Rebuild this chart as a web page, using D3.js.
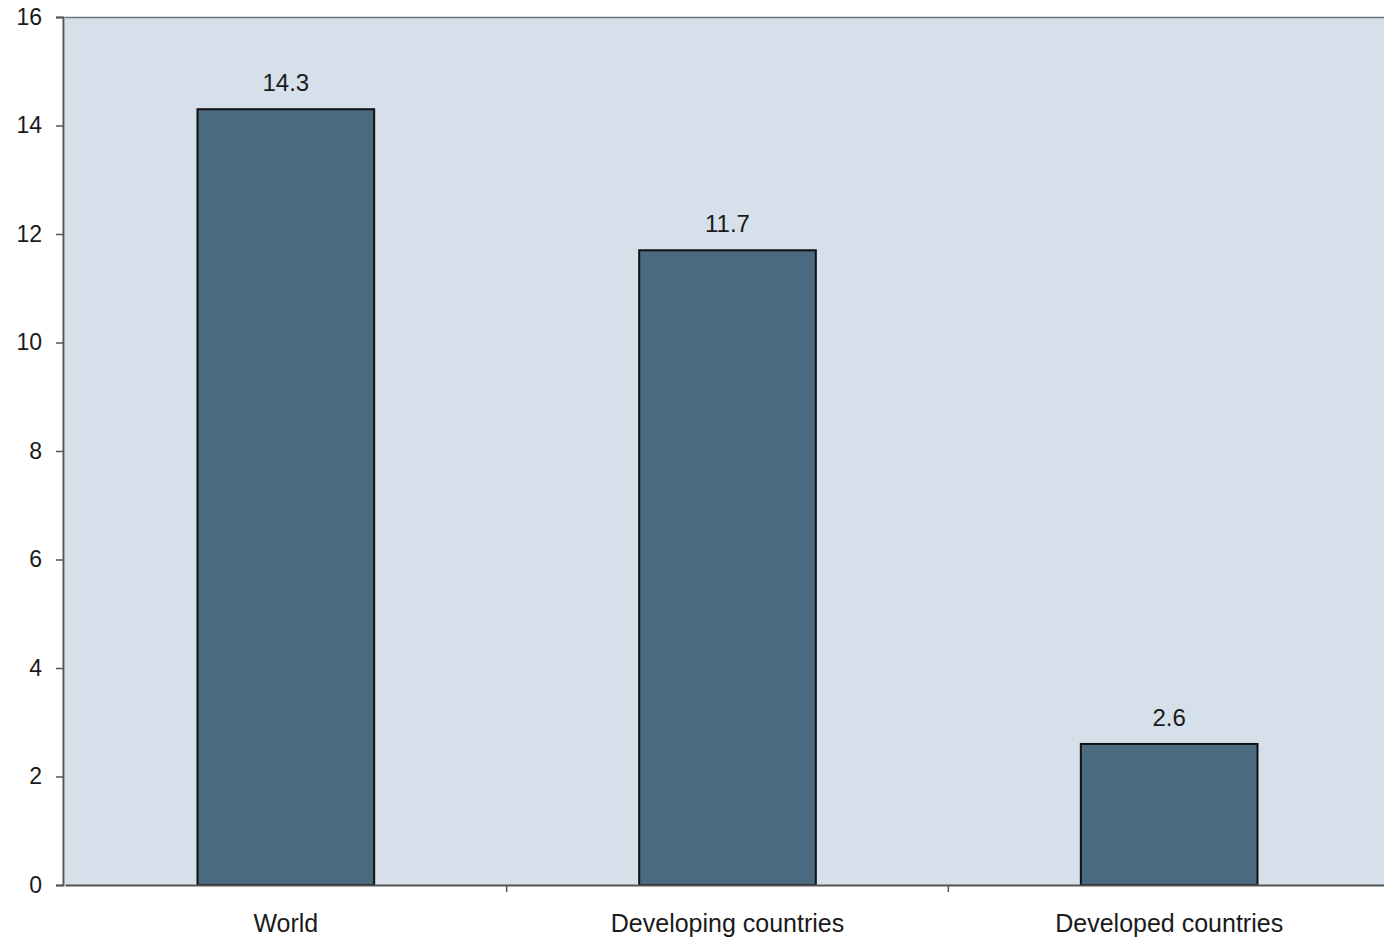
<!DOCTYPE html>
<html><head><meta charset="utf-8">
<script src="https://cdn.jsdelivr.net/npm/d3@7"></script>
<style>body{margin:0;background:#fff;overflow:hidden}svg{display:block}</style>
</head><body>
<svg id="c" width="1384" height="939"></svg>
<script>
const categories = ["World", "Developing countries", "Developed countries"];
const values = [14.3, 11.7, 2.6];
const yTicks = [0, 2, 4, 6, 8, 10, 12, 14, 16];
const valueLabels = ["14.3", "11.7", "2.6"];

const svg = d3.select("#c");
const L = 65, R = 1390, T = 17, B = 885;
const x = d3.scaleBand().domain(categories).range([L, R]).padding(0);
const y = d3.scaleLinear().domain([0, 16]).range([B, T]);
const font = "Liberation Sans, Arial, sans-serif";

svg.append("rect").attr("x", L).attr("y", T).attr("width", R - L).attr("height", B - T)
  .attr("fill", "#d6e0ea");
svg.append("line").attr("x1", L).attr("x2", R).attr("y1", T + 0.5).attr("y2", T + 0.5)
  .attr("stroke", "#6b7580").attr("stroke-width", 1.5);

const bw = x.bandwidth() * 0.4;
svg.selectAll("rect.bar").data(categories).join("rect").attr("class", "bar")
  .attr("x", d => x(d) + (x.bandwidth() - bw) / 2)
  .attr("y", (d, i) => y(values[i]))
  .attr("width", bw)
  .attr("height", (d, i) => y(0) - y(values[i]))
  .attr("fill", "#4a6a80").attr("stroke", "#111").attr("stroke-width", 2);

svg.selectAll("text.vl").data(categories).join("text").attr("class", "vl")
  .attr("x", d => x(d) + x.bandwidth() / 2)
  .attr("y", (d, i) => y(values[i]) - 18)
  .attr("text-anchor", "middle").attr("font-family", font).attr("font-size", 24)
  .attr("fill", "#1a1a1a").text((d, i) => valueLabels[i]);

const ya = svg.append("g").attr("transform", `translate(${L - 2},0)`)
  .call(d3.axisLeft(y).tickValues(yTicks).tickSize(7).tickPadding(14).tickFormat(d3.format("d")));
ya.select(".domain").attr("stroke", "#555").attr("stroke-width", 2);
ya.selectAll(".tick line").attr("stroke", "#555").attr("stroke-width", 1.5);
ya.selectAll("text").attr("font-family", font).attr("font-size", 23).attr("fill", "#1a1a1a");

const xa = svg.append("g").attr("transform", `translate(0,${B})`)
  .call(d3.axisBottom(x).tickSize(0).tickPadding(29));
xa.select(".domain").attr("stroke", "#555").attr("stroke-width", 2);
xa.selectAll("text").attr("font-family", font).attr("font-size", 25).attr("fill", "#1a1a1a");
// category separator ticks
svg.selectAll("line.sep").data(categories.slice(1)).join("line").attr("class", "sep")
  .attr("x1", d => x(d)).attr("x2", d => x(d))
  .attr("y1", B).attr("y2", B + 7).attr("stroke", "#555").attr("stroke-width", 1.5);
</script>
</body></html>
